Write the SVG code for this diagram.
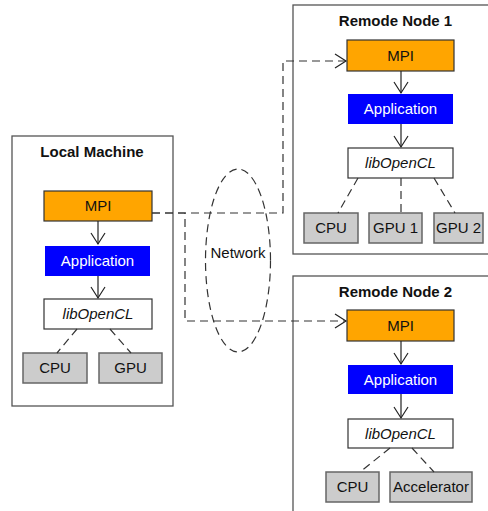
<svg xmlns="http://www.w3.org/2000/svg" width="488" height="511" viewBox="0 0 488 511">
  <style>
    .frame { fill: #ffffff; stroke: #555555; stroke-width: 1.3; }
    .title { font-family: "Liberation Sans", Arial, sans-serif; font-size: 15px; font-weight: bold; fill: #111111; text-anchor: middle; }
    .label { font-family: "Liberation Sans", Arial, sans-serif; font-size: 15px; fill: #111111; text-anchor: middle; }
    .mpi { fill: #FFA500; stroke: #333333; stroke-width: 1.2; }
    .app { fill: #0000FF; }
    .app-text { fill: #ffffff; }
    .lib { fill: #ffffff; stroke: #333333; stroke-width: 1.2; }
    .lib-text { font-style: italic; }
    .dev { fill: #CCCCCC; stroke: #666666; stroke-width: 1.5; }
    .flow { fill: none; stroke: #222222; stroke-width: 1.2; marker-end: url(#open-arrow); }
    .dash { fill: none; stroke: #333333; stroke-width: 1.2; stroke-dasharray: 8 5; }
    .dash-arrow { fill: none; stroke: #333333; stroke-width: 1.2; stroke-dasharray: 8 5; marker-end: url(#open-arrow); }
  </style>
  <defs>
    <marker id="open-arrow" markerUnits="userSpaceOnUse" viewBox="-13 -9 15 18" refX="0" refY="0" markerWidth="15" markerHeight="18" orient="auto">
      <path d="M-11,-7 L0,0 L-11,7" fill="none" stroke="#222222" stroke-width="1.2"/>
    </marker>
  </defs>

  <rect width="488" height="511" fill="#ffffff"/>

  <!-- Local machine -->
  <g id="local-machine">
    <rect class="frame" x="12" y="136" width="161" height="270"/>
    <text class="title" x="92" y="157">Local Machine</text>
  </g>
  <g id="local-mpi">
    <rect class="mpi" x="44" y="191" width="108" height="30"/>
    <text class="label" x="98" y="211">MPI</text>
  </g>
  <g id="local-app">
    <rect class="app" x="45" y="246" width="105" height="30"/>
    <text class="label app-text" x="97.5" y="266">Application</text>
  </g>
  <g id="local-lib">
    <rect class="lib" x="44" y="299" width="108" height="30"/>
    <text class="label lib-text" x="98" y="319">libOpenCL</text>
  </g>
  <g id="local-cpu">
    <rect class="dev" x="23" y="353" width="64" height="30"/>
    <text class="label" x="55" y="373">CPU</text>
  </g>
  <g id="local-gpu">
    <rect class="dev" x="99" y="353" width="63" height="30"/>
    <text class="label" x="130.5" y="373">GPU</text>
  </g>

  <!-- Remote node 1 -->
  <g id="node1">
    <rect class="frame" x="293" y="5" width="210" height="249"/>
    <text class="title" x="395.5" y="26">Remode Node 1</text>
  </g>
  <g id="node1-mpi">
    <rect class="mpi" x="347" y="40" width="107" height="31"/>
    <text class="label" x="400.5" y="60.5">MPI</text>
  </g>
  <g id="node1-app">
    <rect class="app" x="348" y="94" width="105" height="30"/>
    <text class="label app-text" x="400.5" y="114">Application</text>
  </g>
  <g id="node1-lib">
    <rect class="lib" x="348" y="148" width="105" height="30"/>
    <text class="label lib-text" x="400.5" y="168">libOpenCL</text>
  </g>
  <g id="node1-cpu">
    <rect class="dev" x="304" y="213" width="54" height="30"/>
    <text class="label" x="331" y="233">CPU</text>
  </g>
  <g id="node1-gpu1">
    <rect class="dev" x="369" y="213" width="53" height="30"/>
    <text class="label" x="395.5" y="233">GPU 1</text>
  </g>
  <g id="node1-gpu2">
    <rect class="dev" x="434" y="213" width="49" height="30"/>
    <text class="label" x="458.5" y="233">GPU 2</text>
  </g>

  <!-- Remote node 2 -->
  <g id="node2">
    <rect class="frame" x="293" y="276" width="210" height="250"/>
    <text class="title" x="395.5" y="297">Remode Node 2</text>
  </g>
  <g id="node2-mpi">
    <rect class="mpi" x="347" y="310" width="107" height="31"/>
    <text class="label" x="400.5" y="330.5">MPI</text>
  </g>
  <g id="node2-app">
    <rect class="app" x="348" y="365" width="105" height="29"/>
    <text class="label app-text" x="400.5" y="384.5">Application</text>
  </g>
  <g id="node2-lib">
    <rect class="lib" x="348" y="419" width="105" height="29"/>
    <text class="label lib-text" x="400.5" y="438.5">libOpenCL</text>
  </g>
  <g id="node2-cpu">
    <rect class="dev" x="326" y="472" width="53" height="30"/>
    <text class="label" x="352.5" y="492">CPU</text>
  </g>
  <g id="node2-accel">
    <rect class="dev" x="390" y="472" width="82" height="30"/>
    <text class="label" x="431" y="492">Accelerator</text>
  </g>

  <!-- Network cloud -->
  <g id="network">
    <ellipse class="dash" cx="238" cy="260.5" rx="32.5" ry="91.5"/>
    <text class="label" x="238" y="258">Network</text>
  </g>

  <!-- Connectors -->
  <g id="connectors">
    <!-- stack flow -->
    <line class="flow" x1="98" y1="221" x2="98" y2="244"/>
    <line class="flow" x1="98" y1="276" x2="98" y2="298"/>
    <line class="flow" x1="401" y1="71" x2="401" y2="93"/>
    <line class="flow" x1="401" y1="124" x2="401" y2="147"/>
    <line class="flow" x1="401" y1="341" x2="401" y2="364"/>
    <line class="flow" x1="401" y1="394" x2="401" y2="418"/>

    <!-- driver to device links -->
    <line class="dash" x1="77" y1="329" x2="57" y2="353"/>
    <line class="dash" x1="110" y1="329" x2="131" y2="353"/>
    <line class="dash" x1="358" y1="178" x2="338" y2="213"/>
    <line class="dash" x1="401" y1="178" x2="401" y2="213"/>
    <line class="dash" x1="434" y1="178" x2="455" y2="213"/>
    <line class="dash" x1="390" y1="448" x2="360" y2="472"/>
    <line class="dash" x1="412" y1="448" x2="434" y2="472"/>

    <!-- MPI links over the network -->
    <path class="dash-arrow" d="M152,213 H283 V61 H346"/>
    <path class="dash-arrow" d="M152,213 H185 V321 H346"/>
  </g>
</svg>
